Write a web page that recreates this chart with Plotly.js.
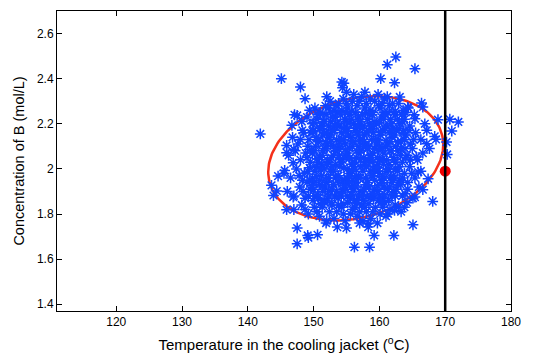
<!DOCTYPE html>
<html>
<head>
<meta charset="utf-8">
<script src="https://cdn.plot.ly/plotly-3.0.1.min.js"></script>
<style>html,body{margin:0;padding:0;background:#fff}#chart{width:536px;height:354px}</style>
</head>
<body>
<div id="chart"></div>
<script>
// Monte Carlo samples: jacket temperature (°C) and concentration of B (mol/L)
const samplePairs = [
  // upper core band
  [150.2,2.27],[151.0,2.25],[151.8,2.28],[152.5,2.30],[153.1,2.26],[153.8,2.29],[154.5,2.31],[155.2,2.27],[155.9,2.30],[156.6,2.28],
  [157.3,2.32],[158.0,2.29],[158.7,2.26],[159.3,2.30],[160.1,2.27],[160.8,2.31],[161.5,2.28],[162.2,2.25],[162.9,2.29],[163.6,2.26],
  [164.4,2.27],[149.4,2.26],[152.0,2.32],[156.1,2.33],[157.8,2.34],[159.8,2.33],[161.2,2.32],[155.0,2.34],[154.4,2.36],[154.6,2.38],
  [148.2,2.21],[149.0,2.23],[149.8,2.20],[150.5,2.22],[151.2,2.19],[151.9,2.24],[152.6,2.21],[153.3,2.23],[154.0,2.19],[154.7,2.22],
  [155.4,2.24],[156.1,2.20],[156.8,2.23],[157.5,2.19],[158.2,2.22],[158.9,2.24],[159.6,2.20],[160.3,2.23],[161.0,2.19],[161.7,2.22],
  [162.4,2.24],[163.1,2.20],[163.8,2.22],[164.6,2.19],[165.3,2.24],[150.9,2.18],[153.7,2.25],[156.5,2.18],[159.1,2.18],[162.0,2.18],
  [155.0,2.21],[157.9,2.25],[160.7,2.25],[152.3,2.19],[164.0,2.25],
  [150.6,2.24],[151.5,2.21],[152.2,2.27],[152.9,2.23],[153.6,2.20],[154.3,2.26],[155.0,2.29],[155.7,2.22],[156.4,2.25],[157.1,2.21],
  [157.8,2.27],[158.5,2.24],[159.2,2.21],[159.9,2.28],[160.6,2.22],[161.3,2.25],[162.0,2.29],[162.7,2.22],[163.4,2.24],[154.8,2.25],
  [156.9,2.30],[158.6,2.31],[153.4,2.28],[160.4,2.29],
  [150.9,2.245],[152.6,2.25],[154.1,2.24],[155.8,2.255],[157.4,2.24],[159.0,2.25],[160.9,2.24],[162.4,2.255],
  [150.0,2.205],[151.7,2.21],[153.4,2.20],[155.2,2.205],[156.9,2.21],[158.5,2.20],[160.0,2.205],[161.8,2.20],[163.5,2.21],
  // middle core
  [146.8,2.14],[147.6,2.11],[148.5,2.16],[149.3,2.13],[150.0,2.17],[150.7,2.12],[151.4,2.15],[152.1,2.11],[152.8,2.17],[153.5,2.13],
  [154.2,2.16],[154.9,2.11],[155.6,2.14],[156.3,2.17],[157.0,2.12],[157.7,2.15],[158.4,2.10],[159.1,2.16],[159.8,2.13],[160.5,2.17],
  [161.2,2.11],[161.9,2.14],[162.6,2.17],[163.3,2.12],[164.0,2.15],[164.7,2.11],[165.5,2.16],[166.3,2.13],[150.3,2.10],[153.0,2.10],
  [155.9,2.10],[158.8,2.13],[161.5,2.16],[156.8,2.15],[154.5,2.13],[160.0,2.10],[163.7,2.17],[148.0,2.13],[157.4,2.18],[152.4,2.14],
  [149.6,2.16],[150.4,2.14],[151.1,2.18],[151.8,2.12],[152.5,2.15],[153.2,2.19],[153.9,2.12],[154.6,2.18],[155.3,2.15],[156.0,2.12],
  [156.7,2.19],[157.4,2.13],[158.1,2.16],[158.8,2.19],[159.5,2.11],[160.2,2.15],[160.9,2.18],[161.6,2.12],[162.3,2.15],[163.0,2.18],
  [163.8,2.13],[164.5,2.17],[165.2,2.13],[155.2,2.18],[157.9,2.11],[152.0,2.16],
  [149.9,2.165],[151.6,2.16],[153.1,2.17],[154.9,2.165],[156.6,2.16],[158.4,2.17],[160.2,2.165],[161.9,2.17],[163.6,2.16],
  [150.8,2.125],[152.6,2.12],[154.3,2.13],[155.9,2.125],[157.6,2.12],[159.4,2.13],[161.0,2.125],[162.8,2.12],
  [146.2,2.06],[147.2,2.08],[148.0,2.04],[148.8,2.07],[149.5,2.03],[150.2,2.08],[150.9,2.05],[151.6,2.09],[152.3,2.03],[153.0,2.06],
  [153.7,2.09],[154.4,2.04],[155.1,2.07],[155.8,2.02],[156.5,2.05],[157.2,2.08],[157.9,2.03],[158.6,2.06],[159.3,2.09],[160.0,2.04],
  [160.7,2.07],[161.4,2.02],[162.1,2.05],[162.8,2.08],[163.5,2.03],[164.2,2.06],[165.0,2.09],[165.8,2.04],[166.6,2.07],[151.2,2.02],
  [154.0,2.10],[156.9,2.10],[159.8,2.02],[162.5,2.10],[155.5,2.05],[158.2,2.09],[153.3,2.02],[160.9,2.10],[149.1,2.10],[157.6,2.05],
  [149.0,2.05],[149.8,2.07],[150.6,2.03],[151.3,2.06],[152.0,2.09],[152.7,2.05],[153.4,2.08],[154.1,2.03],[154.8,2.06],[155.5,2.09],
  [156.2,2.03],[156.9,2.07],[157.6,2.10],[158.3,2.04],[159.0,2.07],[159.7,2.05],[160.4,2.09],[161.1,2.04],[161.8,2.08],[162.5,2.03],
  [163.2,2.06],[163.9,2.09],[164.7,2.04],[153.9,2.06],[158.9,2.03],
  [149.6,2.085],[151.4,2.08],[153.2,2.09],[154.8,2.085],[156.5,2.08],[158.2,2.09],[159.9,2.085],[161.6,2.08],[163.3,2.09],
  [150.5,2.045],[152.1,2.04],[153.8,2.05],[155.4,2.045],[157.1,2.04],[158.7,2.05],[160.5,2.045],[162.2,2.04],[164.0,2.05],
  [145.5,1.98],[146.5,1.96],[147.4,2.00],[148.3,1.95],[149.1,1.99],[149.8,1.96],[150.5,2.01],[151.2,1.97],[151.9,1.94],[152.6,1.99],
  [153.3,1.96],[154.0,2.01],[154.7,1.95],[155.4,1.98],[156.1,2.01],[156.8,1.96],[157.5,1.99],[158.2,1.94],[158.9,1.97],[159.6,2.01],
  [160.3,1.95],[161.0,1.99],[161.7,1.96],[162.4,2.00],[163.1,1.95],[163.8,1.98],[164.6,2.01],[165.4,1.96],[166.3,1.99],[150.0,1.94],
  [153.8,1.94],[156.4,1.94],[159.1,2.00],[161.9,1.94],[155.1,2.00],[157.8,2.02],[152.0,2.02],[160.6,2.02],[147.8,1.97],[164.3,1.94],
  [148.6,1.98],[149.4,1.95],[150.2,1.99],[150.9,1.95],[151.6,2.00],[152.3,1.96],[153.0,1.99],[153.7,1.97],[154.4,1.94],[155.1,1.96],
  [155.8,1.99],[156.5,1.97],[157.2,2.01],[157.9,1.96],[158.6,1.99],[159.3,1.95],[160.0,1.98],[160.7,1.96],[161.4,2.00],[162.1,1.97],
  [162.8,1.99],[163.5,1.96],[164.9,1.98],[156.0,1.95],[159.8,1.99],
  [149.4,2.005],[151.0,2.00],[152.8,2.01],[154.6,2.005],[156.3,2.00],[158.0,2.01],[159.6,2.005],[161.3,2.00],[163.0,2.01],
  [150.4,1.965],[152.0,1.96],[153.8,1.97],[155.5,1.965],[157.1,1.96],[158.8,1.97],[160.5,1.965],[162.2,1.96],
  // lower core
  [146.0,1.90],[147.0,1.88],[147.9,1.92],[148.7,1.87],[149.5,1.91],[150.2,1.88],[150.9,1.93],[151.6,1.86],[152.3,1.90],[153.0,1.93],
  [153.7,1.87],[154.4,1.91],[155.1,1.88],[155.8,1.92],[156.5,1.86],[157.2,1.90],[157.9,1.93],[158.6,1.87],[159.3,1.91],[160.0,1.88],
  [160.7,1.92],[161.4,1.86],[162.1,1.90],[162.8,1.93],[163.5,1.88],[164.3,1.91],[165.1,1.87],[166.0,1.92],[151.8,1.92],[154.9,1.94],
  [157.6,1.86],[160.4,1.94],[153.2,1.88],[156.0,1.90],[158.9,1.89],[149.0,1.94],
  [148.4,1.90],[149.2,1.88],[150.0,1.91],[150.7,1.87],[151.4,1.90],[152.1,1.87],[152.8,1.91],[153.5,1.90],[154.2,1.88],[154.9,1.91],
  [155.6,1.87],[156.3,1.92],[157.0,1.88],[157.7,1.91],[158.4,1.92],[159.1,1.87],[159.8,1.90],[160.5,1.87],[161.2,1.91],[161.9,1.88],
  [162.6,1.91],[163.9,1.89],[155.4,1.94],[158.1,1.88],
  [149.7,1.925],[151.3,1.92],[153.0,1.93],[154.7,1.925],[156.4,1.92],[158.0,1.93],[159.7,1.925],[161.5,1.92],[163.2,1.93],
  [150.6,1.885],[152.3,1.88],[154.0,1.89],[155.7,1.885],[157.3,1.88],[159.0,1.89],[160.8,1.885],[162.4,1.88],
  [147.0,1.82],[148.2,1.84],[149.2,1.80],[150.1,1.83],[150.9,1.79],[151.7,1.85],[152.4,1.81],[153.1,1.78],[153.8,1.84],[154.5,1.80],
  [155.2,1.85],[155.9,1.82],[156.6,1.79],[157.3,1.84],[158.0,1.81],[158.7,1.78],[159.4,1.83],[160.1,1.80],[160.8,1.85],[161.6,1.82],
  [162.4,1.84],[163.3,1.81],[164.2,1.85],[152.0,1.77],[154.8,1.77],[157.5,1.77],[149.9,1.86],[156.2,1.86],[159.9,1.86],
  [150.5,1.81],[151.3,1.83],[152.8,1.84],[153.5,1.81],[154.2,1.83],[155.6,1.80],[156.3,1.83],[157.0,1.81],[157.8,1.83],[159.0,1.81],
  [160.5,1.83],[161.3,1.80],[162.9,1.83],[148.7,1.82],[163.8,1.83],
  [151.0,1.845],[152.7,1.85],[154.6,1.845],[156.6,1.85],[158.4,1.845],[160.3,1.85],
  // outer points
  [141.9,2.155],[145.1,2.40],[148.0,2.363],[148.7,2.311],[162.5,2.496],[161.2,2.462],[165.4,2.444],[160.2,2.40],[162.3,2.382],[154.3,2.385],
  [172.0,2.208],[170.7,2.22],[171.0,2.168],[170.2,2.119],[170.3,2.064],[168.1,1.856],[165.1,1.752],[162.2,1.705],[159.2,1.705],[158.5,1.653],
  [156.2,1.653],[147.5,1.668],[147.5,1.738],[149.1,1.705],[149.2,1.695],[150.6,1.708],[159.7,1.76],[158.3,1.757],[158.3,1.742],[157.0,1.76],
  [155.0,1.738],[153.6,1.742],[151.9,1.76],[161.0,1.79],[162.3,1.816],[143.6,1.927],[143.9,1.882],[144.4,1.902],[144.6,1.968],[145.6,1.993],
  [145.9,2.072],[145.9,2.104],[147.0,2.087],[146.9,2.027],[146.7,2.193],[147.1,2.24],[147.5,2.237],[148.3,2.171],[145.9,1.819],[146.9,1.875],
  [165.4,2.222],[166.9,2.20],[167.2,2.171],[166.4,2.292],[166.6,2.274],[168.4,2.144],[168.6,2.131],[167.2,2.112],[167.6,2.09],[165.6,2.053],
  [165.9,1.986],[167.4,1.956],[166.6,1.908],[165.4,1.875],[168.9,2.218],[164.3,2.274],[163.1,2.319]
];
const sampleTemp = samplePairs.map(p => p[0]);
const sampleConc = samplePairs.map(p => p[1]);

// confidence ellipse parameters (centre, half-widths, correlation)
const ellipseCenter = [156.4, 2.047];
const ellipseHalfAxes = [13.3, 0.2755];
const ellipseCorr = 0.22;

// nominal operating point and jacket temperature limit
const nominalPoint = [170, 1.99];
const tempLimit = 170;

const xTicks = [120, 130, 140, 150, 160, 170, 180];
const yTicks = [1.4, 1.6, 1.8, 2.0, 2.2, 2.4, 2.6];

const ex = [], ey = [];
for (let i = 0; i <= 200; i++) {
  const t = 2 * Math.PI * i / 200;
  ex.push(ellipseCenter[0] + ellipseHalfAxes[0] * Math.cos(t));
  ey.push(ellipseCenter[1] + ellipseHalfAxes[1] * (ellipseCorr * Math.cos(t) + Math.sqrt(1 - ellipseCorr * ellipseCorr) * Math.sin(t)));
}

const FONT = 'Liberation Sans, Arial, sans-serif';

const traces = [
  {x: ex, y: ey, mode: 'lines', line: {color: '#f4301a', width: 2.5}, hoverinfo: 'skip'},
  {x: sampleTemp, y: sampleConc, mode: 'markers',
   marker: {symbol: 'asterisk-open', size: 9, line: {color: '#0f44ff', width: 1.5}, color: '#0f44ff'}},
  {x: [nominalPoint[0]], y: [nominalPoint[1]], mode: 'markers',
   marker: {symbol: 'circle', size: 11, color: '#f00000'}}
];

const axisCommon = {
  showgrid: false, zeroline: false, showline: true, linecolor: '#000', linewidth: 1,
  mirror: 'ticks', ticks: 'inside', ticklen: 5, tickcolor: '#000', tickwidth: 1,
  tickfont: {family: FONT, size: 12, color: '#000'}
};

const layout = {
  width: 536, height: 354,
  margin: {l: 57, r: 25, t: 11, b: 43},
  paper_bgcolor: '#fff', plot_bgcolor: '#fff',
  showlegend: false,
  xaxis: Object.assign({}, axisCommon, {
    range: [111, 180], tickvals: xTicks, ticktext: xTicks.map(String),
    title: {text: 'Temperature in the cooling jacket (<sup>o</sup>C)', standoff: 11,
            font: {family: FONT, size: 15, color: '#000'}}
  }),
  yaxis: Object.assign({}, axisCommon, {
    range: [1.37, 2.7], tickvals: yTicks, ticktext: yTicks.map(v => String(+v.toFixed(1))),
    title: {text: 'Concentration of B (mol/L)', standoff: 8,
            font: {family: FONT, size: 14.5, color: '#000'}}
  }),
  shapes: [
    {type: 'line', xref: 'x', yref: 'paper', x0: tempLimit, x1: tempLimit, y0: 0, y1: 1,
     line: {color: '#000', width: 2.5}, layer: 'above'}
  ]
};

Plotly.newPlot('chart', traces, layout, {displayModeBar: false, staticPlot: true});
</script>
</body>
</html>
